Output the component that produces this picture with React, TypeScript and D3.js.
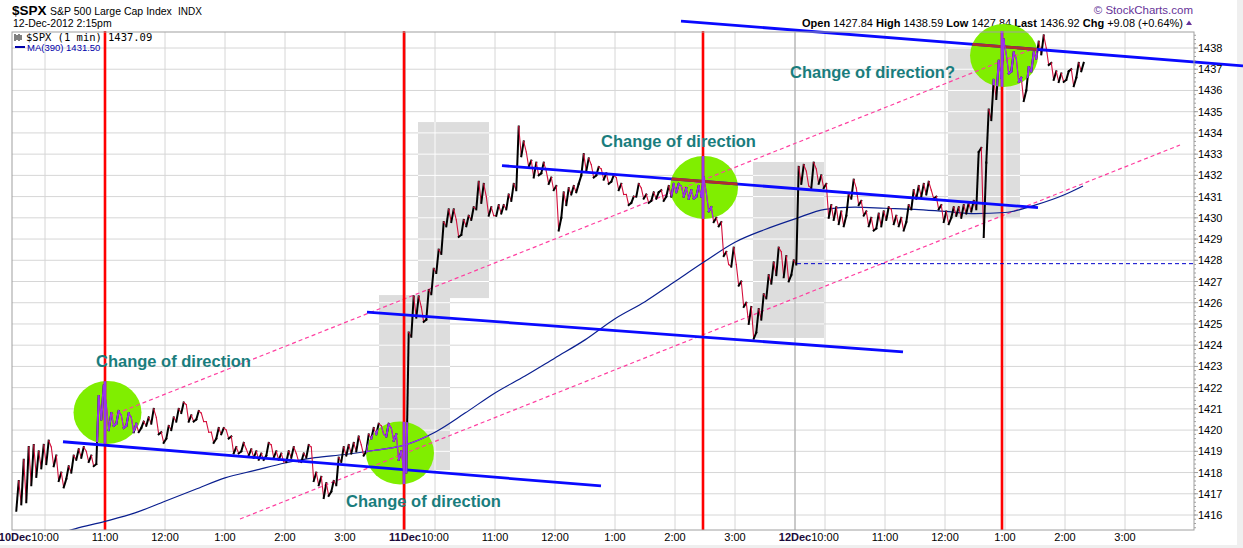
import * as d3 from "d3"

// Dec 10-12 2012, $SPX, 5-minute [low, high] ranges
const bars10Dec: [number, number][] = [
  [1416.2, 1417.6], [1416.5, 1418.6], [1416.6, 1419.2], [1417.4, 1419.3], [1417.8, 1419.0],
  [1418.2, 1419.3], [1418.4, 1419.5], [1418.3, 1419.2], [1417.6, 1418.8], [1417.3, 1418.0],
  [1417.7, 1418.3], [1418.0, 1418.8], [1418.6, 1419.1], [1418.7, 1419.2], [1418.5, 1419.0],
  [1418.3, 1418.8], [1418.4, 1421.6], [1420.5, 1422.1], [1420.0, 1421.2], [1420.2, 1420.8],
  [1420.3, 1420.9], [1420.1, 1420.7], [1420.2, 1420.8], [1419.9, 1420.6], [1419.9, 1420.3],
  [1420.1, 1420.4], [1420.2, 1420.6], [1420.3, 1421.0], [1419.8, 1420.6], [1419.4, 1419.9],
  [1419.6, 1420.2], [1420.0, 1420.6], [1420.4, 1421.0], [1420.8, 1421.3], [1420.4, 1421.2],
  [1420.4, 1420.7], [1420.5, 1420.9], [1420.4, 1420.8], [1419.9, 1420.4], [1419.4, 1419.9],
  [1419.6, 1420.1], [1419.8, 1420.1], [1419.6, 1420.0], [1418.9, 1419.7], [1418.9, 1419.2],
  [1419.0, 1419.4], [1418.8, 1419.1], [1418.7, 1419.1], [1418.6, 1419.0], [1418.6, 1418.9],
  [1418.8, 1419.4], [1418.7, 1419.3], [1418.6, 1419.0], [1418.5, 1418.9], [1418.5, 1419.0],
  [1418.7, 1419.2], [1418.5, 1418.9], [1418.5, 1418.9], [1418.7, 1419.3], [1417.6, 1419.2],
  [1417.4, 1418.0], [1416.8, 1417.8], [1416.9, 1417.5], [1417.1, 1417.6], [1417.4, 1418.7],
  [1418.5, 1419.2], [1418.8, 1419.3], [1418.9, 1419.4], [1419.0, 1419.7], [1418.8, 1419.3],
  [1419.0, 1419.8], [1419.6, 1420.1], [1419.8, 1420.3], [1419.8, 1420.2], [1419.7, 1420.3],
  [1419.5, 1420.1], [1418.6, 1419.8], [1418.1, 1419.0],
]

const bars11Dec: [number, number][] = [
  [1418.0, 1424.6], [1424.4, 1426.3], [1425.3, 1426.3], [1425.1, 1425.8], [1425.2, 1426.6],
  [1426.4, 1427.6], [1427.4, 1428.5], [1428.3, 1429.8], [1429.6, 1430.4], [1429.8, 1430.4],
  [1429.1, 1429.9], [1429.2, 1429.9], [1429.6, 1430.1], [1429.9, 1430.5], [1430.4, 1431.7],
  [1430.7, 1431.6], [1430.1, 1431.0], [1430.1, 1430.5], [1430.1, 1430.6], [1430.2, 1430.6],
  [1430.4, 1431.1], [1430.8, 1431.6], [1431.3, 1434.3], [1432.9, 1433.6], [1432.4, 1433.1],
  [1431.9, 1432.7], [1432.0, 1432.6], [1432.1, 1432.6], [1431.6, 1432.2], [1431.3, 1431.9],
  [1429.4, 1431.5], [1430.0, 1431.2], [1430.6, 1431.4], [1431.1, 1431.5], [1431.2, 1431.6],
  [1432.0, 1433.0], [1432.2, 1432.8], [1431.9, 1432.5], [1432.0, 1432.4], [1431.8, 1432.3],
  [1431.6, 1432.1], [1431.7, 1432.0], [1431.3, 1431.9], [1431.1, 1431.6], [1430.6, 1431.1],
  [1430.7, 1431.0], [1431.0, 1431.6], [1430.9, 1431.4], [1430.7, 1431.1], [1430.8, 1431.2],
  [1430.9, 1431.2], [1430.8, 1431.3], [1431.0, 1431.5], [1431.0, 1431.6], [1431.2, 1431.6],
  [1431.0, 1431.5], [1430.9, 1431.4], [1430.9, 1431.3], [1431.0, 1431.5], [1431.0, 1431.9],
  [1430.3, 1431.2], [1429.8, 1430.5], [1429.6, 1430.0], [1428.2, 1429.8], [1427.8, 1428.4],
  [1427.7, 1428.6], [1426.8, 1427.8], [1425.8, 1427.0], [1425.0, 1426.0], [1424.3, 1425.8],
  [1424.6, 1425.7], [1425.2, 1426.4], [1426.2, 1427.3], [1426.9, 1427.9], [1427.3, 1428.6],
  [1427.2, 1428.4], [1427.0, 1428.2], [1427.3, 1428.0],
]

const bars12Dec: [number, number][] = [
  [1427.8, 1432.4], [1431.6, 1432.5], [1431.5, 1432.2], [1431.4, 1432.6], [1431.6, 1432.3],
  [1431.4, 1432.0], [1430.0, 1431.6], [1429.9, 1430.6], [1429.7, 1430.5], [1429.6, 1430.3],
  [1430.1, 1431.1], [1430.9, 1431.8], [1430.6, 1431.4], [1430.1, 1430.8], [1429.6, 1430.3],
  [1429.4, 1430.0], [1429.5, 1430.2], [1429.6, 1430.3], [1429.9, 1430.5], [1429.7, 1430.4],
  [1429.6, 1430.1], [1429.4, 1430.0], [1429.8, 1430.6], [1430.4, 1431.3], [1430.9, 1431.5],
  [1431.0, 1431.6], [1431.1, 1431.7], [1430.9, 1431.3], [1430.4, 1431.0], [1429.8, 1430.6],
  [1429.7, 1430.3], [1430.0, 1430.5], [1430.1, 1430.5], [1430.0, 1430.6], [1430.2, 1430.7],
  [1430.3, 1430.8], [1430.4, 1433.1], [1429.1, 1433.3], [1432.6, 1435.1], [1434.6, 1436.5],
  [1435.6, 1437.4], [1436.6, 1438.4], [1436.8, 1437.7], [1436.9, 1437.8], [1436.4, 1437.5],
  [1435.5, 1436.6], [1436.0, 1437.1], [1436.9, 1437.8], [1437.5, 1438.3], [1437.7, 1438.6],
  [1437.2, 1438.0], [1436.5, 1437.3], [1436.4, 1436.9], [1436.4, 1436.8], [1436.5, 1436.9],
  [1436.2, 1437.0], [1436.6, 1437.3], [1436.9, 1437.3],
]

// MA(390): [minutes since Dec 10 open, value]
const ma390: [number, number][] = [
  [30, 1414.9], [60, 1415.35], [90, 1415.7], [120, 1416.1], [150, 1416.65], [180, 1417.2],
  [210, 1417.75], [240, 1418.1], [270, 1418.45], [300, 1418.7], [330, 1418.85], [360, 1419.05],
  [390, 1419.3], [420, 1419.9], [450, 1420.8], [480, 1421.75], [510, 1422.55], [540, 1423.4],
  [570, 1424.25], [600, 1425.25], [630, 1426.05], [660, 1427.0], [690, 1427.95], [720, 1428.85],
  [750, 1429.45], [780, 1429.95], [810, 1430.4], [840, 1430.5], [870, 1430.45], [900, 1430.4],
  [930, 1430.3], [960, 1430.2], [990, 1430.25], [1020, 1430.6], [1050, 1431.1], [1068, 1431.5],
]

const dayLabels = ["10Dec", "11Dec", "12Dec"]
const hourLabels = ["10:00", "11:00", "12:00", "1:00", "2:00", "3:00"]
const hourMinutes = [30, 90, 150, 210, 270, 330]
const priceTicks = [
  1416, 1417, 1418, 1419, 1420, 1421, 1422, 1423, 1424, 1425, 1426, 1427,
  1428, 1429, 1430, 1431, 1432, 1433, 1434, 1435, 1436, 1437, 1438,
]

// annotations, in (minute, price)
const blueTrends: [number, number, number, number][] = [
  [48, 1419.45, 586, 1417.37],
  [352, 1425.56, 888, 1423.68],
  [487, 1432.46, 1023, 1430.48],
  [666, 1439.27, 1228, 1437.16],
]
const pinkChannel: [number, number, number, number][] = [
  [95, 1420.66, 1015, 1437.91],
  [225, 1415.81, 1165, 1433.43],
]
const redMarkers = [90, 389, 688, 987]
const rings: [number, number][] = [[92.5, 1420.83], [385, 1418.92], [689, 1431.43], [989, 1437.65]]
const grayBoxes: [number, number, number, number][] = [
  [364, 1418.12, 435, 1426.36],
  [403, 1426.22, 474, 1434.51],
  [738, 1424.34, 809, 1432.63],
  [933, 1430.04, 1005, 1438.0],
]
const prevClose = 1427.84
const notes: { t: number; p: number; text: string }[] = [
  { t: 81, p: 1422.97, text: "Change of direction" },
  { t: 331, p: 1416.38, text: "Change of direction" },
  { t: 586, p: 1433.34, text: "Change of direction" },
  { t: 775, p: 1436.59, text: "Change of direction?" },
]

const W = 1243
const H = 548
const x = d3.scaleLinear().domain([0, 1170]).range([15, 1185])
const y = d3.scaleLinear().domain([1416, 1438]).range([515, 48])
const plot = { left: x(-3), right: x(1179), top: 32, bottom: 530 }

const bars = [bars10Dec, bars11Dec, bars12Dec].flatMap((day, di) =>
  day.map(([lo, hi], i) => ({ t: di * 390 + i * 5 + 2.5, lo, hi }))
)

// zig-zag path through each 5-min range, rising legs black, falling legs red
const pts: [number, number][] = []
let prevMid = bars[0].lo
bars.forEach((b) => {
  const mid = (b.lo + b.hi) / 2
  if (mid >= prevMid) pts.push([b.t - 1.2, b.lo], [b.t + 1.2, b.hi])
  else pts.push([b.t - 1.2, b.hi], [b.t + 1.2, b.lo])
  prevMid = mid
})
const segs = pts.slice(1).map((p, i) => ({ a: pts[i], b: p, up: p[1] > pts[i][1] }))

const maLine = d3
  .line<[number, number]>()
  .x((d) => x(d[0]))
  .y((d) => y(d[1]))
  .curve(d3.curveMonotoneX)

const gridXs = [
  ...dayLabels.flatMap((_, di) => hourMinutes.map((m) => di * 390 + m)),
  390,
  780,
]

function PriceSegs({ purple }: { purple?: boolean }) {
  return (
    <g>
      {segs.map((s, i) => (
        <line
          key={i}
          x1={x(s.a[0])}
          y1={y(s.a[1])}
          x2={x(s.b[0])}
          y2={y(s.b[1])}
          stroke={purple ? "#9933ee" : s.up ? "#000" : "#d4103c"}
          strokeWidth={s.up ? 2 : 1.1}
          strokeLinecap="square"
        />
      ))}
    </g>
  )
}

function Grid({ color }: { color: string }) {
  return (
    <g stroke={color} strokeWidth={1}>
      {priceTicks.map((p) => (
        <line key={p} x1={plot.left} x2={plot.right} y1={y(p)} y2={y(p)} />
      ))}
      {gridXs.map((t) => (
        <line key={t} x1={x(t)} x2={x(t)} y1={plot.top} y2={plot.bottom} />
      ))}
    </g>
  )
}

export default function App() {
  const rx = 34
  const ry = 31.5
  return (
    <div style={{ position: "absolute", left: 0, top: 0 }}>
      <svg
        width={W}
        height={H}
        style={{ display: "block", fontFamily: "'Liberation Sans', Arial, sans-serif" }}
      >
        <defs>
          <clipPath id="plotClip">
            <rect x={plot.left} y={plot.top} width={plot.right - plot.left} height={plot.bottom - plot.top} />
          </clipPath>
          <clipPath id="boxClip">
            {grayBoxes.map(([t0, p0, t1, p1], i) => (
              <rect key={i} x={x(t0)} y={y(p1)} width={x(t1) - x(t0)} height={y(p0) - y(p1)} />
            ))}
          </clipPath>
          <clipPath id="ringClip">
            {rings.map(([t, p], i) => (
              <ellipse key={i} cx={x(t)} cy={y(p)} rx={rx} ry={ry} />
            ))}
          </clipPath>
        </defs>

        <rect width={W} height={H} fill="#efefef" />
        <rect width={1237} height={545} fill="#fff" />

        {/* header */}
        <text x={12} y={15} fontSize={13.5} fontWeight="bold">$SPX</text>
        <text x={50} y={15} fontSize={10.5}>S&amp;P 500 Large Cap Index</text>
        <text x={178} y={15} fontSize={10}>INDX</text>
        <text x={13} y={27} fontSize={10.5}>12-Dec-2012 2:15pm</text>
        <text x={1193} y={14} fontSize={11.5} fill="#663399" textAnchor="end">© StockCharts.com</text>
        <text x={1183} y={26.5} fontSize={11} textAnchor="end">
          <tspan fontWeight="bold">Open</tspan> 1427.84 <tspan fontWeight="bold">High</tspan> 1438.59{" "}
          <tspan fontWeight="bold">Low</tspan> 1427.84 <tspan fontWeight="bold">Last</tspan> 1436.92{" "}
          <tspan fontWeight="bold">Chg</tspan> +9.08 (+0.64%)
        </text>
        <path d="M1186,25 L1192,25 L1189,20.5 Z" fill="#663399" />

        {/* plot body */}
        <g fill="#dddddd">
          {grayBoxes.map(([t0, p0, t1, p1], i) => (
            <rect key={i} x={x(t0)} y={y(p1)} width={x(t1) - x(t0)} height={y(p0) - y(p1)} />
          ))}
        </g>
        <Grid color="#d6d6d6" />
        <g clipPath="url(#boxClip)">
          <Grid color="#ffffff" />
        </g>
        <g stroke="#a8a8a8">
          {[390, 780].map((t) => (
            <line key={t} x1={x(t)} x2={x(t)} y1={plot.top} y2={plot.bottom} />
          ))}
        </g>

        <g fill="#80ee00">
          {rings.map(([t, p], i) => (
            <ellipse key={i} cx={x(t)} cy={y(p)} rx={rx} ry={ry} />
          ))}
        </g>

        <g stroke="#ff3fa0" strokeWidth={1.2} strokeDasharray="4 3">
          {pinkChannel.map(([t0, p0, t1, p1], i) => (
            <line key={i} x1={x(t0)} y1={y(p0)} x2={x(t1)} y2={y(p1)} />
          ))}
        </g>

        <g stroke="#ff0000" strokeWidth={2.6}>
          {redMarkers.map((t) => (
            <line key={t} x1={x(t)} x2={x(t)} y1={plot.top - 1} y2={plot.bottom} />
          ))}
        </g>

        <g clipPath="url(#plotClip)">
          <path d={maLine(ma390) ?? ""} fill="none" stroke="#0a1f8f" strokeWidth={1.2} />
          <PriceSegs />
        </g>

        <g stroke="#0a0aff" strokeWidth={2.8}>
          {blueTrends.map(([t0, p0, t1, p1], i) => (
            <line key={i} x1={x(t0)} y1={y(p0)} x2={x(t1)} y2={y(p1)} />
          ))}
        </g>

        {/* inside the green rings the marks show purple / dark red */}
        <g clipPath="url(#ringClip)">
          <g stroke="#b0302a" strokeWidth={2.8}>
            {blueTrends.slice(2).map(([t0, p0, t1, p1], i) => (
              <line key={i} x1={x(t0)} y1={y(p0)} x2={x(t1)} y2={y(p1)} />
            ))}
          </g>
          <g stroke="#9933ee" strokeWidth={2.6}>
            {redMarkers.map((t) => (
              <line key={t} x1={x(t)} x2={x(t)} y1={plot.top - 1} y2={plot.bottom} />
            ))}
          </g>
          <path d={maLine(ma390) ?? ""} fill="none" stroke="#9933ee" strokeWidth={1.2} />
          <PriceSegs purple />
        </g>
        <line
          x1={x(782)}
          x2={plot.right}
          y1={y(prevClose)}
          y2={y(prevClose)}
          stroke="#0000cc"
          strokeWidth={1}
          strokeDasharray="4 3"
        />

        {notes.map((n, i) => (
          <text key={i} x={x(n.t)} y={y(n.p)} fontSize={16.5} fontWeight="bold" fill="#1a7d7d">
            {n.text}
          </text>
        ))}

        {/* legend */}
        <g fontFamily="'DejaVu Sans Mono', monospace" fontSize={10.5}>
          <path d="M15,34 V41 M17,35 V40 M19,34 V41 M21,35 V40" stroke="#000" strokeWidth={1} />
          <text x={26} y={41}>$SPX (1 min)</text>
          <text x={108} y={41}>1437.09</text>
        </g>
        <line x1={15} x2={25} y1={47} y2={47} stroke="#0000aa" strokeWidth={2} />
        <text x={27} y={51} fontSize={9.5} fill="#0000aa">MA(390) 1431.50</text>

        {/* frame and axes */}
        <rect
          x={plot.left}
          y={plot.top}
          width={plot.right - plot.left}
          height={plot.bottom - plot.top}
          fill="none"
          stroke="#a0a0a0"
        />
        <g stroke="#a0a0a0">
          {priceTicks.map((p) => (
            <line key={p} x1={plot.right} x2={plot.right + 4} y1={y(p)} y2={y(p)} />
          ))}
          {d3.range(1415.4, 1438.8, 0.2).map((p) => (
            <line key={p} x1={plot.right} x2={plot.right + 2} y1={y(p)} y2={y(p)} />
          ))}
        </g>
        <g fontSize={11}>
          {priceTicks.map((p) => (
            <text key={p} x={plot.right + 4} y={y(p) + 4}>
              {p}
            </text>
          ))}
          {dayLabels.map((d, di) => (
            <g key={d}>
              <text x={x(di * 390)} y={541} textAnchor="middle" fontWeight="bold" fill="#1a0a3a">
                {d}
              </text>
              {hourLabels.map((h, hi) => (
                <text key={h} x={x(di * 390 + hourMinutes[hi])} y={541} textAnchor="middle">
                  {h}
                </text>
              ))}
            </g>
          ))}
        </g>
      </svg>
    </div>
  )
}
